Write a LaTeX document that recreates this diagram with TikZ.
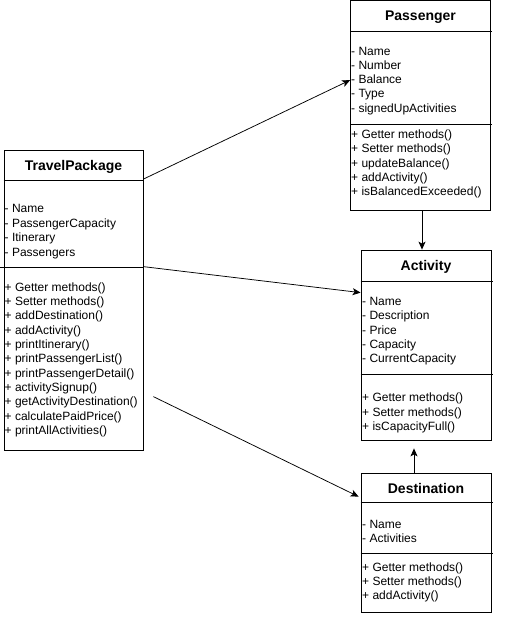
\documentclass[tikz,border=0pt]{standalone}
\usepackage{fontspec}
\setmainfont{Liberation Sans}
\usetikzlibrary{arrows.meta}

\begin{document}
\begin{tikzpicture}[x=1pt, y=-1pt]
    % --- DEFINE STYLES ---
    % Style for the class boxes
    \tikzstyle{classbox} = [rectangle, draw, line width=0.75pt, inner sep=0pt]
    % Style for compartment lines
    \tikzstyle{classline} = [line width=0.75pt]
    % Style for class names
    \tikzstyle{classname} = [anchor=base, inner sep=0pt, font=\fontsize{14}{16}\selectfont\bfseries]
    % Style for attributes and methods
    \tikzstyle{member} = [anchor=base west, inner sep=0pt, font=\fontsize{12}{14}\selectfont]
    % Style for associations
    \tikzstyle{assoc} = [line width=0.75pt, -{Stealth[length=8pt, width=7pt, inset=2pt]}]

    \useasboundingbox (0,0) rectangle (511,619);

    % --- CLASS BOXES ---
    \node[classbox, minimum width=140pt, minimum height=209.5pt] (pas) at (420.5, 105.25) {};
    \node[classbox, minimum width=139pt, minimum height=300pt] (tp) at (73.5, 300) {};
    \node[classbox, minimum width=130pt, minimum height=190pt] (act) at (426, 345) {};
    \node[classbox, minimum width=130pt, minimum height=139pt] (dest) at (426, 542.5) {};

    % --- PASSENGER ---
    \node[classname] (pasT) at (420.5, 20.5) {Passenger};
    \draw[classline] (pas.west |- 0,31) -- ([xshift=1.5pt]pas.east |- 0,31);
    \draw[classline] (pas.west |- 0,124) -- ([xshift=1.5pt]pas.east |- 0,124);
    \foreach \m [count=\i from 0] in {Name, Number, Balance, Type, signedUpActivities}
        \node[member] (pasA\i) at (351, 55+14.3*\i) {- \m};
    \foreach \m [count=\i from 0] in {Getter methods(), Setter methods(), updateBalance(), addActivity(), isBalancedExceeded()}
        \node[member] (pasM\i) at (351, 138.5+14.3*\i) {+ \m};

    % --- TRAVELPACKAGE ---
    \node[classname] (tpT) at (73.5, 170.5) {TravelPackage};
    \draw[classline] (tp.west |- 0,180) -- (tp.east |- 0,180);
    \draw[classline] ([xshift=-4pt]tp.west |- 0,267) -- (tp.east |- 0,267);
    \foreach \m [count=\i from 0] in {Name, PassengerCapacity, Itinerary, Passengers}
        \node[member] (tpA\i) at (4.5, 212.8+14.4*\i) {- \m};
    \foreach \m [count=\i from 0] in {Getter methods(), Setter methods(), addDestination(), addActivity(),
            printItinerary(), printPassengerList(), printPassengerDetail(), activitySignup(),
            getActivityDestination(), calculatePaidPrice(), printAllActivities()}
        \node[member] (tpM\i) at (4.5, 291.2+14.33*\i) {+ \m};

    % --- ACTIVITY ---
    \node[classname] (actT) at (426, 270.5) {Activity};
    \draw[classline] (act.west |- 0,281) -- ([xshift=1.5pt]act.east |- 0,281);
    \draw[classline] (act.west |- 0,374) -- ([xshift=1.5pt]act.east |- 0,374);
    \foreach \m [count=\i from 0] in {Name, Description, Price, Capacity, CurrentCapacity}
        \node[member] (actA\i) at (362, 305.5+14.3*\i) {- \m};
    \foreach \m [count=\i from 0] in {Getter methods(), Setter methods(), isCapacityFull()}
        \node[member] (actM\i) at (362, 401.8+14.3*\i) {+ \m};

    % --- DESTINATION ---
    \node[classname] (destT) at (426, 493.5) {Destination};
    \draw[classline] (dest.west |- 0,502.5) -- ([xshift=1.5pt]dest.east |- 0,502.5);
    \draw[classline] (dest.west |- 0,553) -- ([xshift=1.5pt]dest.east |- 0,553);
    \foreach \m [count=\i from 0] in {Name, Activities}
        \node[member] (destA\i) at (362, 528+14.2*\i) {- \m};
    \foreach \m [count=\i from 0] in {Getter methods(), Setter methods(), addActivity()}
        \node[member] (destM\i) at (362, 571+14*\i) {+ \m};

    % --- ASSOCIATIONS ---
    \draw[assoc] ([yshift=-29.5pt]tp.north east) -- ([yshift=-80pt]pas.north west);
    \draw[assoc] ([yshift=-117pt]tp.north east) -- ([yshift=-43pt]act.north west);
    \draw[assoc] ([xshift=10pt, yshift=-247pt]tp.north east) -- ([xshift=-2pt, yshift=-24pt]dest.north west);
    \draw[assoc] ([xshift=1.5pt]pas.south) -- ([xshift=-4pt]act.north);
    \draw[assoc] ([xshift=-12pt]dest.north) -- ([xshift=-12pt, yshift=-8pt]act.south);
\end{tikzpicture}
\end{document}
